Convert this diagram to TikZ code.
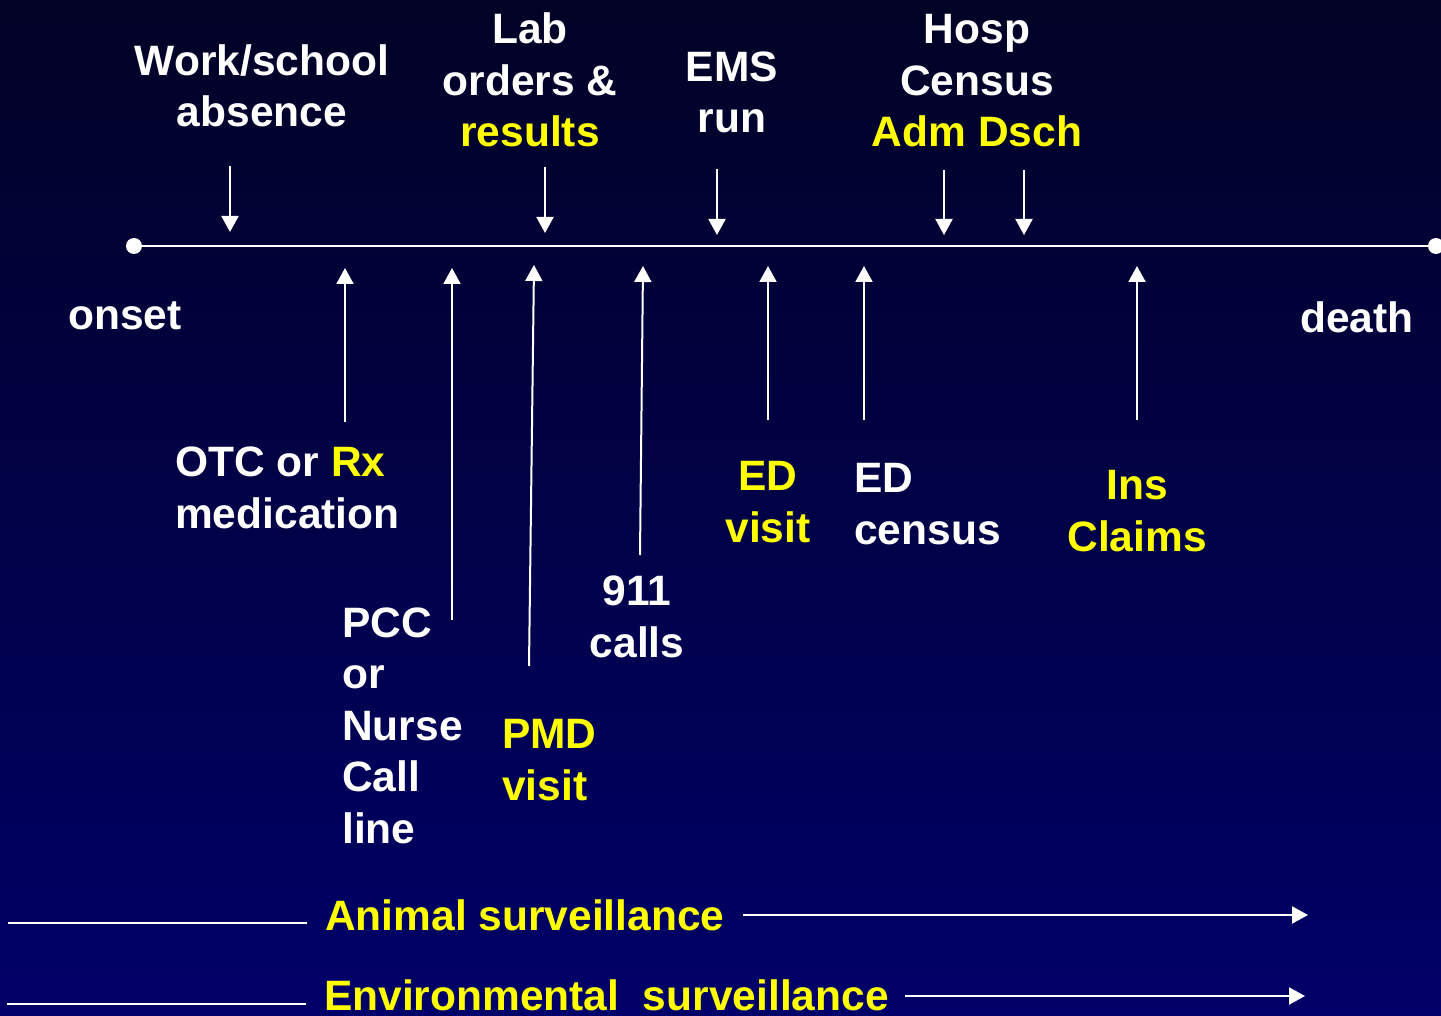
\documentclass[tikz,border=0pt]{standalone}
\usepackage{fontspec}
\setmainfont{Liberation Sans}
\usetikzlibrary{arrows.meta}
\definecolor{bgtop}{RGB}{2,2,38}
\definecolor{bgbot}{RGB}{0,0,104}
\definecolor{yel}{RGB}{255,255,0}
\newcommand\lblfont{\fontsize{42.5pt}{51.5pt}\selectfont\bfseries}
\tikzset{
  lbl/.style={text=white, font=\lblfont, inner sep=0pt, anchor=base},
  ylbl/.style={lbl, text=yel},
  arr/.style={draw=white, line width=2pt, -{Triangle[width=17pt,length=16pt]}},
  plainline/.style={draw=white, line width=2pt},
  dotn/.style={circle, fill=white, inner sep=0pt, minimum size=16pt},
}
\begin{document}
\begin{tikzpicture}[x=1pt,y=-1pt]
\shade[top color=bgtop, bottom color=bgbot] (0,0) rectangle (1441,1016);
\useasboundingbox (0,0) rectangle (1441,1016);

% timeline
\node[dotn] (onsetdot) at (134,246) {};
\node[dotn] (deathdot) at (1436,246) {};
\draw[plainline] (onsetdot) -- (deathdot);
\node[lbl] (onset) at (125,330) {onset};
\node[lbl] (death) at (1357,333) {death};

% top labels (anchor base = baseline of last line)
\node[lbl, align=center] (work) at (262,127) {Work/school\\absence};
\node[lbl, align=center] (lab) at (530,147) {Lab\\orders \&\\\textcolor{yel}{results}};
\node[lbl, align=center] (ems) at (732,133) {EMS\\run};
\node[lbl, align=center] (hosp) at (977,147) {Hosp\\Census\\\textcolor{yel}{Adm Dsch}};

% down arrows
\coordinate (d1s) at (230,166); \coordinate (d1e) at (230,232);
\coordinate (d2s) at (545,167); \coordinate (d2e) at (545,233);
\coordinate (d3s) at (717,169); \coordinate (d3e) at (717,235);
\coordinate (d4s) at (944,170); \coordinate (d4e) at (944,235);
\coordinate (d5s) at (1024,170); \coordinate (d5e) at (1024,235);
\draw[arr] (d1s) -- (d1e);
\draw[arr] (d2s) -- (d2e);
\draw[arr] (d3s) -- (d3e);
\draw[arr] (d4s) -- (d4e);
\draw[arr] (d5s) -- (d5e);

% up arrows
\coordinate (u1s) at (345,422); \coordinate (u1e) at (345,268);
\coordinate (u2s) at (452,620); \coordinate (u2e) at (452,268);
\coordinate (u3s) at (529,666); \coordinate (u3e) at (534,265);
\coordinate (u4s) at (640,555); \coordinate (u4e) at (643,266);
\coordinate (u5s) at (768,420); \coordinate (u5e) at (768,266);
\coordinate (u6s) at (864,420); \coordinate (u6e) at (864,266);
\coordinate (u7s) at (1137,420); \coordinate (u7e) at (1137,266);
\draw[arr] (u1s) -- (u1e);
\draw[arr] (u2s) -- (u2e);
\draw[arr] (u3s) -- (u3e);
\draw[arr] (u4s) -- (u4e);
\draw[arr] (u5s) -- (u5e);
\draw[arr] (u6s) -- (u6e);
\draw[arr] (u7s) -- (u7e);

% bottom labels
\node[lbl, anchor=base west, align=left] (otc) at (175,528) {OTC or \textcolor{yel}{Rx}\\medication};
\node[lbl, anchor=base west, align=left] (pcc) at (342,843) {PCC\\or\\Nurse\\Call\\line};
\node[ylbl, anchor=base west, align=left] (pmd) at (502,800) {PMD\\visit};
\node[lbl, align=center] (calls) at (637,657) {911\\calls};
\node[ylbl, align=center] (edv) at (768,542) {ED\\visit};
\node[lbl, anchor=base west, align=left] (edc) at (854,544) {ED\\census};
\node[ylbl, align=center] (ins) at (1137,551) {Ins\\Claims};

% surveillance
\node[ylbl, anchor=base west] (animal) at (325,930) {Animal surveillance};
\node[ylbl, anchor=base west] (env) at (324,1010) {Environmental\ \ surveillance};
\coordinate (a0) at (8,923); \coordinate (a1) at (307,923);
\coordinate (a2) at (743,915); \coordinate (a3) at (1308,915);
\coordinate (e0) at (7,1004); \coordinate (e1) at (306,1004);
\coordinate (e2) at (905,996); \coordinate (e3) at (1305,996);
\draw[plainline] (a0) -- (a1);
\draw[arr] (a2) -- (a3);
\draw[plainline] (e0) -- (e1);
\draw[arr] (e2) -- (e3);
\end{tikzpicture}
\end{document}
